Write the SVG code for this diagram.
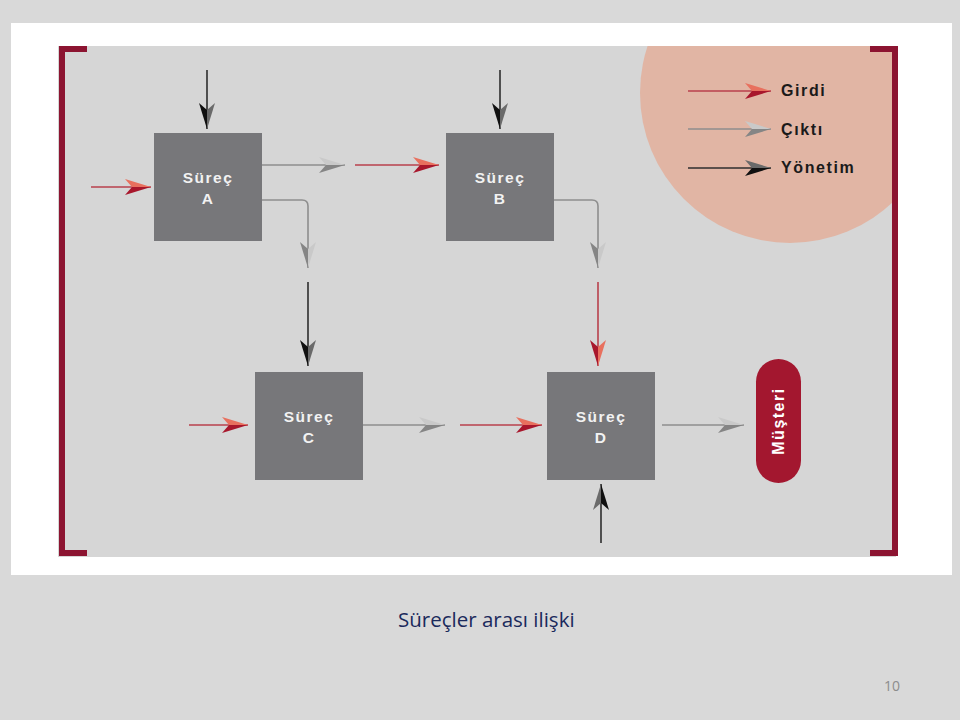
<svg xmlns="http://www.w3.org/2000/svg" width="960" height="720" viewBox="0 0 960 720">
<style>
.box{fill:#77777a}
.bt{font-family:"Liberation Sans",Arial,sans-serif;font-weight:bold;font-size:15.5px;fill:#f2f2f2;text-anchor:middle;letter-spacing:1.5px}
.lg{font-family:"Liberation Sans",Arial,sans-serif;font-weight:bold;font-size:16px;fill:#1a1a1a;letter-spacing:1.6px}
.red{fill:none;stroke:#b8404c;stroke-width:1.6}
.gry{fill:none;stroke:#8e8e8e;stroke-width:1.6}
.blk{fill:none;stroke:#2e2e2e;stroke-width:1.6}
.mr{marker-end:url(#ar)}
.mg{marker-end:url(#ag)}
.mb{marker-end:url(#ab)}
</style>
<defs>
<marker id="ar" markerUnits="userSpaceOnUse" viewBox="0 0 26 16" refX="26" refY="8" markerWidth="26" markerHeight="16" orient="auto">
<path d="M0,0 L26,8 L7,8 Z" fill="#e8705e"/><path d="M0,16 L26,8 L7,8 Z" fill="#a8172c"/>
</marker>
<marker id="ag" markerUnits="userSpaceOnUse" viewBox="0 0 26 16" refX="26" refY="8" markerWidth="26" markerHeight="16" orient="auto">
<path d="M0,0 L26,8 L7,8 Z" fill="#c9c9c9"/><path d="M0,16 L26,8 L7,8 Z" fill="#858585"/>
</marker>
<marker id="ab" markerUnits="userSpaceOnUse" viewBox="0 0 26 16" refX="26" refY="8" markerWidth="26" markerHeight="16" orient="auto">
<path d="M0,0 L26,8 L7,8 Z" fill="#6a6a6a"/><path d="M0,16 L26,8 L7,8 Z" fill="#101010"/>
</marker>
<clipPath id="pc"><rect x="58" y="46" width="835" height="511"/></clipPath>
</defs>
<rect x="0" y="0" width="960" height="720" fill="#d9d9d9"/>
<rect x="11" y="23" width="941" height="552" fill="#ffffff"/>
<rect x="58" y="46" width="838" height="511" fill="#d6d6d6"/>
<circle cx="790" cy="93" r="150" fill="#e1b5a4" clip-path="url(#pc)"/>
<g id="frame" fill="none" stroke="#8c1431" stroke-width="6">
<path d="M87,49 H62 V553 H87"/>
<path d="M870,49 H895 V553 H870"/>
</g>
<g id="legend">
<line x1="688" y1="91" x2="771" y2="91" class="red mr"/>
<line x1="688" y1="129" x2="771" y2="129" class="gry mg"/>
<line x1="688" y1="168" x2="771" y2="168" class="blk mb"/>
<text x="781" y="96" class="lg">Girdi</text>
<text x="781" y="135" class="lg">Çıktı</text>
<text x="781" y="173" class="lg">Yönetim</text>
</g>
<g id="connectors">
<line x1="207" y1="70" x2="207" y2="129" class="blk mb"/>
<line x1="91" y1="187" x2="151" y2="187" class="red mr"/>
<line x1="262" y1="165" x2="345" y2="165" class="gry mg"/>
<line x1="355" y1="165" x2="439" y2="165" class="red mr"/>
<line x1="500" y1="70" x2="500" y2="129" class="blk mb"/>
<path d="M262,200 H302 Q308,200 308,206 V268" class="gry mg"/>
<line x1="308" y1="282" x2="308" y2="366" class="blk mb"/>
<path d="M553,200 H592 Q598,200 598,206 V268" class="gry mg"/>
<line x1="598" y1="282" x2="598" y2="366" class="red mr"/>
<line x1="189" y1="425" x2="248" y2="425" class="red mr"/>
<line x1="363" y1="425" x2="445" y2="425" class="gry mg"/>
<line x1="460" y1="425" x2="542" y2="425" class="red mr"/>
<line x1="662" y1="425" x2="744" y2="425" class="gry mg"/>
<line x1="601" y1="543" x2="601" y2="484" class="blk mb"/>
</g>
<g id="surecA">
<rect x="154" y="133" width="108" height="108" class="box"/>
<text x="208" y="183" class="bt">Süreç</text>
<text x="208" y="204" class="bt">A</text>
</g>
<g id="surecB">
<rect x="446" y="133" width="108" height="108" class="box"/>
<text x="500" y="183" class="bt">Süreç</text>
<text x="500" y="204" class="bt">B</text>
</g>
<g id="surecC">
<rect x="255" y="372" width="108" height="108" class="box"/>
<text x="309" y="422" class="bt">Süreç</text>
<text x="309" y="443" class="bt">C</text>
</g>
<g id="surecD">
<rect x="547" y="372" width="108" height="108" class="box"/>
<text x="601" y="422" class="bt">Süreç</text>
<text x="601" y="443" class="bt">D</text>
</g>
<g id="musteri">
<rect x="756" y="359" width="45" height="124" rx="22.5" fill="#a3172f"/>
<text x="0" y="0" transform="translate(784,421) rotate(-90)" class="bt" style="font-size:16px;fill:#ffffff">Müşteri</text>
</g>
<text x="398" y="627" font-family="'Open Sans','Liberation Sans',sans-serif" font-size="20.5" fill="#1b2a5c">Süreçler arası ilişki</text>
<text x="900" y="691" font-family="'Open Sans','Liberation Sans',sans-serif" font-size="14" fill="#8c8c8c" text-anchor="end">10</text>
</svg>
